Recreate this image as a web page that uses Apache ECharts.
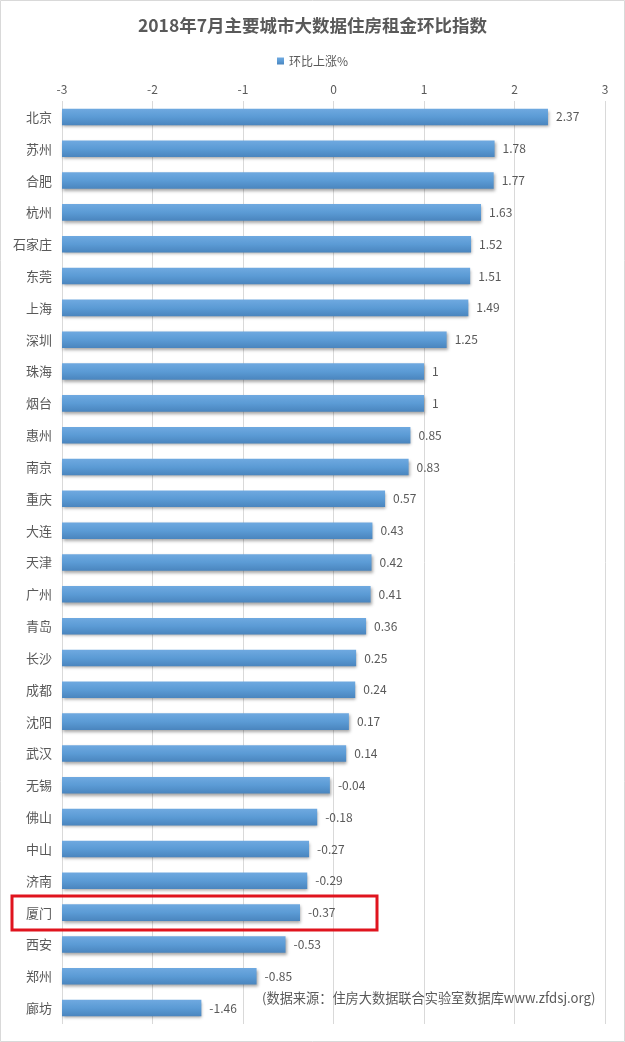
<!DOCTYPE html>
<html>
<head>
<meta charset="utf-8">
<script src="https://cdn.jsdelivr.net/npm/echarts@6/dist/echarts.min.js"></script>
<style>
  html, body { margin: 0; padding: 0; background: #fff; }
  #chart { width: 625px; height: 1042px; }
</style>
</head>
<body>
<div id="chart"></div>
<script>
// 城市与环比数据
var cities = ['北京', '苏州', '合肥', '杭州', '石家庄', '东莞', '上海', '深圳', '珠海', '烟台',
  '惠州', '南京', '重庆', '大连', '天津', '广州', '青岛', '长沙', '成都', '沈阳',
  '武汉', '无锡', '佛山', '中山', '济南', '厦门', '西安', '郑州', '廊坊']
var rises = [2.37, 1.78, 1.77, 1.63, 1.52, 1.51, 1.49, 1.25, 1, 1,
  0.85, 0.83, 0.57, 0.43, 0.42, 0.41, 0.36, 0.25, 0.24, 0.17,
  0.14, -0.04, -0.18, -0.27, -0.29, -0.37, -0.53, -0.85, -1.46]
var axisMin = -3
var axisMax = 3

var textColor = '#595959'
var gridColor = '#d9d9d9'

var chart = echarts.init(document.getElementById('chart'))
chart.setOption({
  backgroundColor: '#fff',
  title: {
    text: '2018年7月主要城市大数据住房租金环比指数',
    left: 'center',
    top: 12,
    textStyle: {color: textColor, fontSize: 17.5, fontWeight: 'bold', fontFamily: 'Noto Sans CJK SC'}
  },
  legend: {
    top: 50,
    left: 'center',
    itemWidth: 7,
    itemHeight: 7,
    itemGap: 4,
    icon: 'rect',
    textStyle: {color: textColor, fontSize: 12, fontFamily: 'Noto Sans CJK SC'},
    data: ['环比上涨%']
  },
  grid: {left: 62, right: 20, top: 101, bottom: 18, containLabel: false},
  xAxis: {
    type: 'value',
    position: 'top',
    min: axisMin,
    max: axisMax,
    interval: 1,
    startValue: axisMin,
    axisLine: {show: false},
    axisTick: {show: false},
    axisLabel: {color: textColor, fontSize: 12, margin: 6, fontFamily: 'Noto Sans CJK SC'},
    splitLine: {lineStyle: {color: gridColor, width: 1}}
  },
  yAxis: {
    type: 'category',
    inverse: true,
    data: cities,
    axisLine: {show: false},
    axisTick: {show: false},
    axisLabel: {color: textColor, fontSize: 13, margin: 10, fontFamily: 'Noto Sans CJK SC'}
  },
  series: [{
    name: '环比上涨%',
    type: 'bar',
    barWidth: '52%',
    data: rises,
    itemStyle: {
      color: new echarts.graphic.LinearGradient(0, 0, 0, 1, [
        {offset: 0, color: '#6fa9e0'},
        {offset: 0.5, color: '#5b9bd5'},
        {offset: 1, color: '#4a85be'}
      ]),
      shadowColor: 'rgba(0,0,0,0.35)',
      shadowBlur: 3,
      shadowOffsetX: 1,
      shadowOffsetY: 2
    },
    label: {
      show: true,
      position: 'right',
      distance: 8,
      color: textColor,
      fontSize: 12,
      fontFamily: 'Noto Sans CJK SC',
      formatter: function(p) { return String(p.value) }
    }
  }],
  graphic: [
    {
      type: 'rect',
      shape: {x: 0.5, y: 0.5, width: 624, height: 1041},
      style: {fill: 'none', stroke: '#d9d9d9', lineWidth: 1},
      silent: true
    },
    {
      type: 'rect',
      shape: {x: 12, y: 896, width: 365, height: 34},
      style: {fill: 'none', stroke: '#e0141e', lineWidth: 3},
      z: 100
    },
    {
      type: 'text',
      left: 262,
      top: 991,
      style: {
        text: '(数据来源：住房大数据联合实验室数据库www.zfdsj.org)',
        fill: textColor,
        fontSize: 13.2,
        fontFamily: 'Noto Sans CJK SC'
      },
      z: 100
    }
  ]
})
</script>
</body>
</html>
